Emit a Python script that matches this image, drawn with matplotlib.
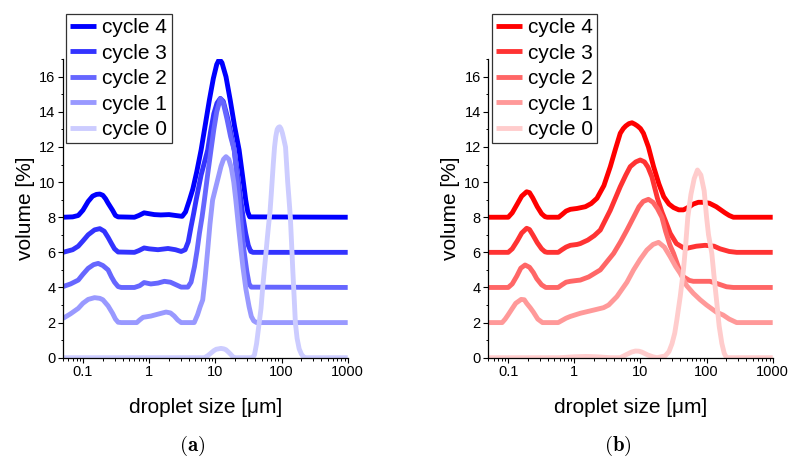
import matplotlib
matplotlib.use('Agg')
import matplotlib.pyplot as plt
from matplotlib.ticker import LogLocator, NullFormatter, MultipleLocator

plt.rcParams['font.family'] = ['Liberation Sans', 'DejaVu Sans']
plt.rcParams['mathtext.fontset'] = 'cm'

##########  data  ##########
# droplet size [um] / volume [%] (curves already offset by 2 per cycle)

labels = ['cycle 4', 'cycle 3', 'cycle 2', 'cycle 1', 'cycle 0']
blue = ['#0000ff', '#3333ff', '#6666ff', '#9999ff', '#ccccff']
red = ['#ff0000', '#ff3333', '#ff6666', '#ff9999', '#ffcccc']

# panel (a)
a4_x = [0.05, 0.07, 0.085, 0.1, 0.12, 0.14, 0.16, 0.18, 0.2, 0.22, 0.24, 0.28, 0.31, 0.34, 0.6, 0.7, 0.84,
        1.0, 1.2, 1.5, 2.0, 2.5, 3.16, 3.55, 4.07, 4.57, 5.25, 6.1, 7.08, 8.13, 9.33, 10.5, 11.5, 12.6, 14.5,
        16.8, 19.5, 22.9, 25.7, 28.8, 30.9, 33.1, 1000]
a4_y = [8.0, 8.02, 8.1, 8.4, 8.9, 9.2, 9.3, 9.32, 9.25, 9.05, 8.8, 8.4, 8.1, 8.02, 8.0, 8.1, 8.25,
        8.2, 8.15, 8.13, 8.15, 8.1, 8.05, 8.3, 8.98, 9.6, 10.6, 11.83, 13.3, 14.67, 15.9, 16.7, 17.0, 16.8, 16.0,
        14.67, 13.2, 11.83, 10.4, 8.98, 8.3, 8.02, 8.0]

a3_x = [0.05, 0.07, 0.085, 0.1, 0.12, 0.15, 0.18, 0.21, 0.24, 0.27, 0.3, 0.34, 0.6, 0.7, 0.84, 1.0, 1.36,
        1.93, 2.5, 3.05, 3.5, 3.9, 4.3, 4.7, 5.13, 6.1, 7.67, 8.5, 9.5, 10.6, 11.9, 13.2, 15.0, 17.0, 19.3,
        21.7, 24.3, 26.5, 28.8, 31.5, 34.3, 37, 1000]
a3_y = [6.0, 6.15, 6.35, 6.65, 7.0, 7.28, 7.35, 7.2, 6.85, 6.5, 6.2, 6.02, 6.0, 6.1, 6.25, 6.2, 6.15,
        6.22, 6.15, 6.05, 6.15, 6.6, 7.46, 8.2, 8.98, 10.4, 11.83, 12.9, 13.9, 14.5, 14.77, 14.6, 13.8, 12.9, 11.83,
        10.4, 8.98, 7.9, 7.08, 6.4, 6.05, 6.0, 6.0]

a2_x = [0.05, 0.065, 0.085, 0.1, 0.12, 0.145, 0.17, 0.2, 0.24, 0.27, 0.3, 0.34, 0.38, 0.6, 0.72, 0.84,
        1.06, 1.36, 1.7, 2.1, 2.4, 3.05, 3.85, 4.3, 4.84, 5.3, 5.75, 6.3, 6.84, 7.7, 8.6, 9.5, 10.5, 11.9, 13.2,
        15.0, 17.0, 19.3, 21.0, 22.9, 25.0, 27.0, 30.0, 32.4, 35, 1000]
a2_y = [4.05, 4.2, 4.42, 4.75, 5.09, 5.3, 5.37, 5.25, 5.0, 4.6, 4.3, 4.05, 4.0, 4.0, 4.1, 4.28,
        4.2, 4.25, 4.35, 4.3, 4.2, 4.02, 4.02, 4.3, 5.18, 6.1, 7.08, 8.0, 8.98, 10.5, 11.83, 13.0, 14.0, 14.75, 14.5,
        13.6, 12.6, 11.83, 10.5, 8.98, 7.4, 6.14, 4.9, 4.2, 4.02, 4.0]

a1_x = [0.05, 0.065, 0.085, 0.1, 0.12, 0.15, 0.18, 0.2, 0.24, 0.28, 0.31, 0.34, 0.38, 0.65, 0.72, 0.81,
        1.06, 1.36, 1.8, 2.1, 2.4, 2.7, 3.05, 4.8, 5.4, 5.9, 6.45, 7.0, 7.67, 8.3, 9.1, 10.0, 10.8, 12.2, 13.3,
        14.5, 16.0, 17.5, 19.0, 20.4, 22.5, 24.5, 26.1, 29, 32.4, 35, 38, 42, 1000]
a1_y = [2.24, 2.5, 2.81, 3.1, 3.32, 3.42, 3.38, 3.3, 2.95, 2.53, 2.2, 2.02, 2.0, 2.0, 2.15, 2.3,
        2.37, 2.48, 2.6, 2.55, 2.37, 2.15, 2.0, 2.0, 2.45, 2.9, 3.29, 4.5, 6.13, 7.6, 8.98, 9.6, 10.1, 10.9, 11.3,
        11.45, 11.3, 10.8, 10.0, 8.98, 7.4, 6.1, 5.18, 3.9, 2.9, 2.35, 2.1, 2.0, 2.0]

a0_x = [0.05, 6.84, 7.6, 8.5, 9.5, 10.3, 12.2, 13.5, 14.5, 16, 17, 18.5, 19.3, 36, 39, 42, 45, 49, 52, 55,
        58, 61, 64, 67, 70, 72, 75, 78.5, 82, 86, 90, 94, 98, 103, 109, 115, 119, 124, 130, 136, 142, 148,
        155, 162, 172, 185, 200, 215, 229, 1000]
a0_y = [0.0, 0.0, 0.1, 0.25, 0.4, 0.48, 0.53, 0.5, 0.45, 0.3, 0.2, 0.05, 0.0, 0.0, 0.15, 0.8, 1.7, 2.8, 4.0, 5.0,
        5.9, 6.8, 7.6, 8.3, 9.3, 10.0, 11.0, 12.0, 12.6, 13.0, 13.12, 13.15, 13.05, 12.8, 12.4, 12.0, 11.1, 10.0,
        9.0, 8.0, 6.5, 5.0, 3.5, 2.0, 1.1, 0.5, 0.2, 0.05, 0.0, 0.0]

# panel (b)
b4_x = [0.05, 0.1, 0.115, 0.137, 0.16, 0.19, 0.21, 0.235, 0.275, 0.32, 0.36, 0.39, 0.58, 0.65, 0.75, 0.87,
        1.1, 1.47, 1.8, 2.2, 2.8, 3.5, 4.2, 4.95, 5.5, 6.0, 6.7, 7.45, 8.2, 9.0, 10.0, 11.1, 13.2, 15.8, 19.0,
        22.5, 27.0, 31.7, 38, 44.7, 55, 63, 75, 89, 110, 140, 190, 220, 254, 1000]
b4_y = [8.0, 8.0, 8.25, 8.75, 9.2, 9.45, 9.4, 9.1, 8.6, 8.2, 8.03, 8.0, 8.0, 8.15, 8.35, 8.45,
        8.5, 8.6, 8.78, 9.08, 9.8, 10.88, 11.9, 12.78, 13.05, 13.2, 13.33, 13.38, 13.3, 13.2, 13.05, 12.78, 12.0,
        10.88, 9.9, 9.17, 8.75, 8.55, 8.42, 8.42, 8.6, 8.75, 8.85, 8.85, 8.8, 8.6, 8.25, 8.1, 8.0, 8.0]

b3_x = [0.05, 0.1, 0.115, 0.137, 0.16, 0.19, 0.21, 0.235, 0.275, 0.32, 0.36, 0.39, 0.57, 0.65, 0.75, 0.87,
        1.1, 1.23, 1.6, 2.0, 2.47, 3.5, 4.95, 6.0, 7.0, 8.5, 9.93, 11.5, 13.0, 14.9, 18.0, 21.1, 23.6, 28.2, 35,
        45, 50, 70, 95, 130, 160, 220, 285, 1000]
b3_y = [6.0, 6.0, 6.2, 6.65, 7.1, 7.37, 7.3, 7.0, 6.55, 6.2, 6.03, 6.0, 6.0, 6.15, 6.3, 6.4,
        6.45, 6.5, 6.7, 6.95, 7.27, 8.4, 9.74, 10.4, 10.88, 11.15, 11.26, 11.15, 10.85, 10.3, 9.1, 8.3, 7.84, 7.08,
        6.5, 6.25, 6.23, 6.35, 6.4, 6.35, 6.2, 6.05, 6.0, 6.0]

b2_x = [0.05, 0.1, 0.115, 0.135, 0.155, 0.18, 0.21, 0.24, 0.27, 0.32, 0.37, 0.57, 0.65, 0.75, 0.87, 1.1,
        1.23, 1.65, 2.47, 3.93, 5.0, 6.25, 7.87, 9.5, 11.0, 13.2, 15.5, 18.0, 21.1, 24.0, 28.0, 31.7, 38, 44.7,
        55, 63, 85, 112, 150, 200, 254, 1000]
b2_y = [4.0, 4.0, 4.2, 4.65, 5.1, 5.28, 5.15, 4.85, 4.5, 4.15, 4.0, 4.0, 4.15, 4.3, 4.35, 4.4,
        4.42, 4.6, 5.0, 5.94, 6.6, 7.27, 8.0, 8.6, 8.9, 9.02, 8.85, 8.5, 8.0, 7.2, 6.4, 5.94, 5.1, 4.61,
        4.4, 4.35, 4.35, 4.35, 4.2, 4.04, 4.0, 4.0]

b1_x = [0.05, 0.081, 0.09, 0.1, 0.115, 0.13, 0.157, 0.175, 0.19, 0.215, 0.24, 0.28, 0.33, 0.57, 0.65, 0.75,
        0.87, 1.23, 2.0, 2.77, 3.3, 4.4, 6.25, 7.87, 9.9, 12.5, 15.5, 18.8, 23, 28.2, 34, 40, 50, 63, 80, 100,
        140, 178, 220, 285, 1000]
b1_y = [2.0, 2.0, 2.2, 2.45, 2.8, 3.1, 3.32, 3.3, 3.1, 2.85, 2.6, 2.2, 2.0, 2.0, 2.12, 2.25,
        2.35, 2.53, 2.72, 2.85, 3.0, 3.48, 4.3, 5.0, 5.6, 6.13, 6.45, 6.57, 6.3, 5.75, 5.2, 4.8, 4.1, 3.67, 3.3,
        3.0, 2.6, 2.43, 2.2, 2.0, 2.0]

b0_x = [0.05, 0.6, 1.0, 1.5, 2.2, 3.5, 4.95, 6.3, 7.3, 8.4, 9.5, 10.5, 13, 15.5, 17.8, 23.6, 27, 30, 33, 35.5,
        40, 44.7, 48, 52, 58, 65, 72.8, 82, 92, 100, 107, 113, 120, 130, 143, 155, 170, 185, 200, 1000]
b0_y = [0.0, 0.0, 0.05, 0.07, 0.05, 0.0, 0.0, 0.2, 0.32, 0.38, 0.37, 0.32, 0.15, 0.05, 0.0, 0.1, 0.35, 0.8, 1.4,
        2.15, 3.5, 5.0, 6.3, 8.0, 9.3, 10.2, 10.69, 10.4, 9.5, 8.0, 7.0, 6.5, 5.94, 4.6, 3.1, 1.8, 0.82, 0.25,
        0.0, 0.0]

panel_a = [(a4_x, a4_y), (a3_x, a3_y), (a2_x, a2_y), (a1_x, a1_y), (a0_x, a0_y)]
panel_b = [(b4_x, b4_y), (b3_x, b3_y), (b2_x, b2_y), (b1_x, b1_y), (b0_x, b0_y)]

##########  plotting  ##########

fig = plt.figure(figsize=(7.9, 4.61), dpi=100)
ax_a = fig.add_axes([63 / 790, 1 - 357.7 / 461, 284.7 / 790, 298.5 / 461])
ax_b = fig.add_axes([488.3 / 790, 1 - 357.7 / 461, 284.4 / 790, 298.5 / 461])

for ax, curves, colors, leg_x, tag, tag_x in [(ax_a, panel_a, blue, 66, '(a)', 192.5),
                                              (ax_b, panel_b, red, 491.7, '(b)', 617.5)]:
    for (x, y), c, lab in zip(curves, colors, labels):
        ax.plot(x, y, color=c, lw=3.5, label=lab, solid_capstyle='butt', solid_joinstyle='round')

    ax.set_xscale('log')
    ax.set_xlim(0.05, 1000)
    ax.set_ylim(0, 17)
    ax.set_xticks([0.1, 1, 10, 100, 1000])
    ax.set_xticklabels(['0.1', '1', '10', '100', '1000'])
    ax.xaxis.set_minor_locator(LogLocator(base=10, subs=range(2, 10), numticks=20))
    ax.xaxis.set_minor_formatter(NullFormatter())
    ax.set_yticks(range(0, 17, 2))
    ax.yaxis.set_minor_locator(MultipleLocator(1))
    ax.tick_params(which='major', direction='out', length=3.5, width=0.8, labelsize=10.5, pad=2)
    ax.tick_params(which='minor', direction='out', length=1.8, width=0.7)
    for s in ['top', 'right']:
        ax.spines[s].set_visible(False)
    for s in ['left', 'bottom']:
        ax.spines[s].set_linewidth(0.9)

    ax.set_xlabel('droplet size [μm]', fontsize=15)
    ax.set_ylabel('volume [%]', fontsize=15)
    ax.xaxis.set_label_coords(0.5, -0.135)
    ax.yaxis.set_label_coords(-0.10, 0.5)

    leg = ax.legend(loc='upper left', bbox_to_anchor=(leg_x / 790, 1 - 14 / 461),
                    bbox_transform=fig.transFigure, borderaxespad=0, fontsize=15,
                    fancybox=False, framealpha=1, edgecolor='#333333',
                    handlelength=1.25, handletextpad=0.3, labelspacing=0.31, borderpad=0.2)
    leg.get_frame().set_linewidth(0.9)

    fig.text(tag_x / 790, 1 - 446 / 461, r'$\mathbf{' + tag + '}$', fontsize=15,
             ha='center', va='center')

fig.savefig('out.png', dpi=100)
